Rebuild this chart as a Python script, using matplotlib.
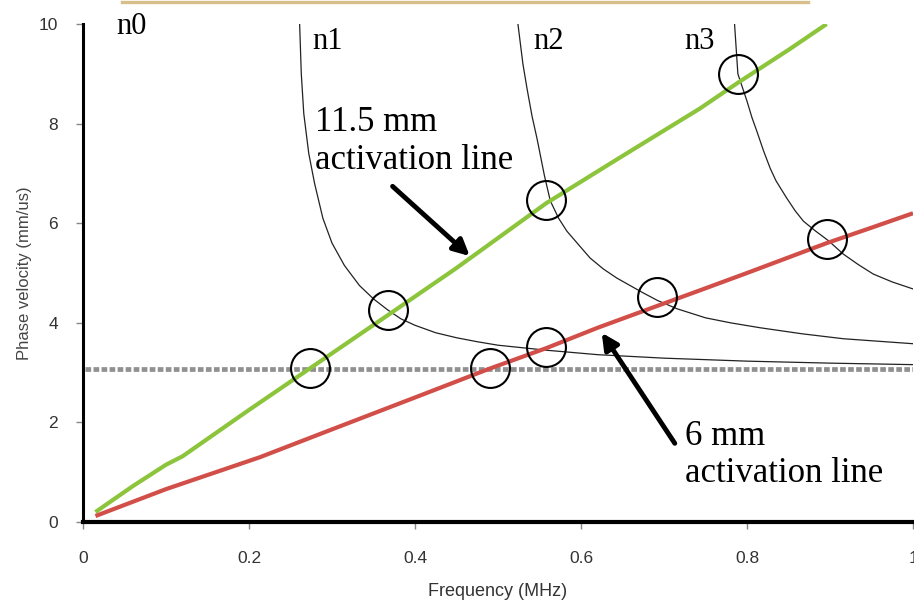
import numpy as np
import matplotlib.pyplot as plt
from matplotlib.lines import Line2D

# valores
green_f = [0.015, 0.06, 0.10, 0.12, 0.20, 0.273, 0.367, 0.45, 0.558, 0.65, 0.743, 0.789, 0.85, 0.896]
green_v = [0.20, 0.72, 1.15, 1.32, 2.25, 3.08, 4.15, 5.10, 6.40, 7.35, 8.30, 8.82, 9.48, 10.0]

red_f = [0.015, 0.10, 0.213, 0.30, 0.40, 0.49, 0.558, 0.62, 0.692, 0.743, 0.80, 0.896, 0.95, 1.0]
red_v = [0.12, 0.66, 1.30, 1.86, 2.50, 3.08, 3.49, 3.90, 4.34, 4.65, 5.00, 5.60, 5.91, 6.20]

n0_f = [0.003, 1.0]
n0_v = [3.08, 3.08]

n1_f = [0.261, 0.263, 0.266, 0.272, 0.279, 0.289, 0.300, 0.315, 0.333, 0.350, 0.367, 0.383,
        0.40, 0.425, 0.45, 0.475, 0.50, 0.558, 0.62, 0.70, 0.80, 0.90, 1.0]
n1_v = [10.0, 9.0, 8.2, 7.4, 6.8, 6.1, 5.6, 5.15, 4.75, 4.48, 4.26, 4.08,
        3.95, 3.80, 3.70, 3.62, 3.55, 3.45, 3.36, 3.29, 3.23, 3.19, 3.16]

n2_f = [0.524, 0.530, 0.535, 0.541, 0.547, 0.556, 0.563, 0.573, 0.583, 0.598, 0.611, 0.627,
        0.643, 0.660, 0.675, 0.692, 0.716, 0.75, 0.78, 0.816, 0.866, 0.916, 1.0]
n2_v = [10.0, 9.2, 8.7, 8.15, 7.7, 6.95, 6.45, 6.1, 5.84, 5.55, 5.30, 5.08,
        4.90, 4.74, 4.60, 4.45, 4.28, 4.10, 4.00, 3.90, 3.78, 3.68, 3.58]

n3_f = [0.785, 0.789, 0.794, 0.80, 0.806, 0.812, 0.820, 0.828, 0.835, 0.848, 0.858, 0.868,
        0.882, 0.898, 0.916, 0.934, 0.952, 0.975, 1.0]
n3_v = [10.0, 9.0, 8.75, 8.45, 8.12, 7.84, 7.45, 7.1, 6.85, 6.5, 6.25, 6.04,
        5.85, 5.65, 5.38, 5.17, 4.98, 4.82, 4.68]

circle_f = [0.273, 0.367, 0.490, 0.558, 0.558, 0.692, 0.789, 0.896]
circle_v = [3.10, 4.26, 3.10, 3.52, 6.46, 4.52, 9.00, 5.68]

x_ticks = [0, 0.2, 0.4, 0.6, 0.8, 1]
x_labels = ['0', '0.2', '0.4', '0.6', '0.8', '1']
y_ticks = [0, 2, 4, 6, 8, 10]

serif = 'Liberation Serif'
sans = 'Liberation Sans'

fig = plt.figure(figsize=(9.14, 6.02), dpi=100)
ax = fig.add_axes([83/914, 80/602, 830/914, 498/602])

# linha decorativa no topo
fig.add_artist(Line2D([122/914, 808/914], [1 - 1.5/602, 1 - 1.5/602],
                      color='#d8bf8a', lw=2.4, transform=fig.transFigure))

ax.plot(n0_f, n0_v, color='#909090', lw=3.4, ls=(0, (1.2, 0.5)), zorder=2)
for f, v in [(n1_f, n1_v), (n2_f, n2_v), (n3_f, n3_v)]:
    ax.plot(f, v, color='#222222', lw=0.9, zorder=3)

ax.plot(green_f, green_v, color='#8cc43c', lw=3.0, solid_capstyle='butt', zorder=4)
ax.plot(red_f, red_v, color='#d24e48', lw=3.0, solid_capstyle='butt', zorder=4)

ax.plot(circle_f, circle_v, 'o', ms=28, mfc='none', mec='black', mew=1.5, zorder=5,
        clip_on=False)

# textos
ax.text(0.0398, 9.8, 'n0', family=serif, fontsize=22, va='baseline')
ax.text(0.276, 9.5, 'n1', family=serif, fontsize=22, va='baseline')
ax.text(0.542, 9.5, 'n2', family=serif, fontsize=22, va='baseline')
ax.text(0.725, 9.5, 'n3', family=serif, fontsize=22, va='baseline')

ax.text(0.2795, 7.86, '11.5 mm', family=serif, fontsize=25, va='baseline')
ax.text(0.2795, 7.08, 'activation line', family=serif, fontsize=25, va='baseline')
ax.text(0.7253, 1.54, '6 mm', family=serif, fontsize=25, va='baseline')
ax.text(0.7253, 0.80, 'activation line', family=serif, fontsize=25, va='baseline')

arrow = dict(arrowstyle='-|>', color='black', lw=3.5, mutation_scale=24, shrinkA=0, shrinkB=0)
ax.annotate('', xy=(0.466, 5.34), xytext=(0.373, 6.74), arrowprops=arrow)
ax.annotate('', xy=(0.625, 3.80), xytext=(0.713, 1.58), arrowprops=arrow)

ax.set_xlim(0, 1.0)
ax.set_ylim(0, 10)
ax.set_xticks(x_ticks)
ax.set_xticklabels(x_labels)
ax.set_yticks(y_ticks)
ax.tick_params(axis='both', colors='#888888', labelcolor='#333333', labelsize=12.5,
               length=5, width=1)
ax.tick_params(axis='x', pad=16)
ax.tick_params(axis='y', pad=13)
for lab in ax.get_xticklabels() + ax.get_yticklabels():
    lab.set_family(sans)

ax.spines['top'].set_visible(False)
ax.spines['right'].set_visible(False)
ax.spines['left'].set_linewidth(2.2)
ax.spines['bottom'].set_linewidth(3.0)

ax.set_xlabel('Frequency (MHz)', family=sans, fontsize=13, color='#333333', labelpad=12)
ax.set_ylabel('Phase velocity (mm/us)', family=sans, fontsize=12, color='#444444', labelpad=5)

fig.savefig('out.png', dpi=100)
